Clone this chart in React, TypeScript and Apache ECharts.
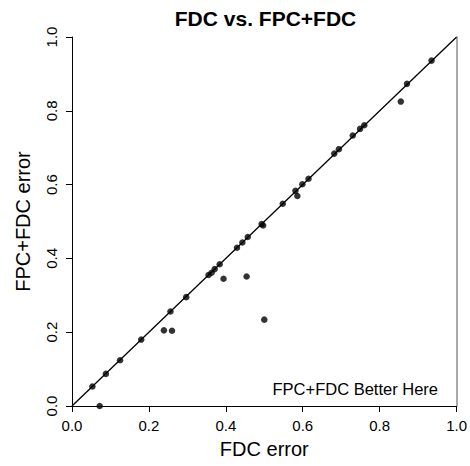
import React, { useEffect, useRef } from "react";
import * as echarts from "echarts";

const fdcError = [
  0.053, 0.072, 0.088, 0.125, 0.18, 0.239, 0.26, 0.256, 0.297, 0.355, 0.363,
  0.371, 0.384, 0.394, 0.429, 0.443, 0.457, 0.454, 0.493, 0.497, 0.5, 0.548,
  0.581, 0.586, 0.599, 0.615, 0.682, 0.694, 0.73, 0.749, 0.76, 0.855, 0.871,
  0.935,
];
const fpcFdcError = [
  0.053, 0.0, 0.087, 0.124, 0.18, 0.205, 0.204, 0.256, 0.295, 0.355, 0.361,
  0.371, 0.384, 0.345, 0.429, 0.443, 0.458, 0.351, 0.493, 0.489, 0.234, 0.548,
  0.583, 0.569, 0.601, 0.616, 0.684, 0.696, 0.733, 0.751, 0.761, 0.825, 0.873,
  0.936,
];
const diagonal = [
  [0, 0],
  [1, 1],
];
const tickLabels = ["0.0", "0.2", "0.4", "0.6", "0.8", "1.0"];

const FONT = "'Liberation Sans', Arial, Helvetica, sans-serif";

export default function App() {
  const ref = useRef<HTMLDivElement>(null);
  useEffect(() => {
    document.body.style.margin = "0";
    if (!ref.current) return;
    const chart = echarts.init(ref.current, null, { renderer: "svg" });
    const fmt = (v: number) => tickLabels[Math.round(v * 5)] ?? "";
    chart.setOption({
      animation: false,
      backgroundColor: "#ffffff",
      grid: { left: 72, right: 11, top: 37, bottom: 60, containLabel: false },
      xAxis: {
        type: "value",
        min: 0,
        max: 1,
        interval: 0.2,
        name: "FDC error",
        nameLocation: "middle",
        nameGap: 33,
        nameTextStyle: { fontFamily: FONT, fontSize: 20, color: "#000" },
        axisLine: { show: true, lineStyle: { color: "#000", width: 1 } },
        axisTick: { show: true, inside: false, length: 6, lineStyle: { color: "#000" } },
        axisLabel: { fontFamily: FONT, fontSize: 15, color: "#000", margin: 12, formatter: fmt },
        splitLine: { show: false },
      },
      yAxis: [
        {
          type: "value",
          min: 0,
          max: 1,
          interval: 0.2,
          position: "left",
          name: "FPC+FDC error",
          nameLocation: "middle",
          nameGap: 39,
          nameTextStyle: { fontFamily: FONT, fontSize: 20, color: "#000" },
          axisLine: { show: true, lineStyle: { color: "#000", width: 1 } },
          axisTick: { show: true, inside: false, length: 6, lineStyle: { color: "#000" } },
          axisLabel: {
            fontFamily: FONT,
            fontSize: 15,
            color: "#000",
            margin: 13,
            rotate: 90,
            formatter: fmt,
          },
          splitLine: { show: false },
        },
        {
          type: "value",
          min: 0,
          max: 1,
          position: "right",
          axisLine: { show: true, lineStyle: { color: "#8c8c8c", width: 1.5 } },
          axisTick: { show: false },
          axisLabel: { show: false },
          splitLine: { show: false },
        },
      ],
      graphic: [
        {
          type: "text",
          x: 265.5,
          y: 18,
          style: {
            text: "FDC vs. FPC+FDC",
            fontFamily: FONT,
            fontSize: 21,
            fontWeight: "bold",
            fill: "#000",
            textAlign: "center",
            textVerticalAlign: "middle",
          },
        },
        {
          type: "text",
          x: 438,
          y: 389,
          style: {
            text: "FPC+FDC Better Here",
            fontFamily: FONT,
            fontSize: 16.5,
            fill: "#000",
            textAlign: "right",
            textVerticalAlign: "middle",
          },
        },
      ],
      series: [
        {
          type: "line",
          data: diagonal,
          symbol: "none",
          lineStyle: { color: "#000", width: 1.3 },
          silent: true,
          z: 2,
        },
        {
          type: "scatter",
          data: fdcError.map((x, i) => [x, fpcFdcError[i]]),
          symbol: "circle",
          symbolSize: 6.5,
          itemStyle: { color: "#000" },
          z: 3,
        },
      ],
    });
    return () => chart.dispose();
  }, []);
  return <div ref={ref} style={{ width: 470, height: 466 }} />;
}
